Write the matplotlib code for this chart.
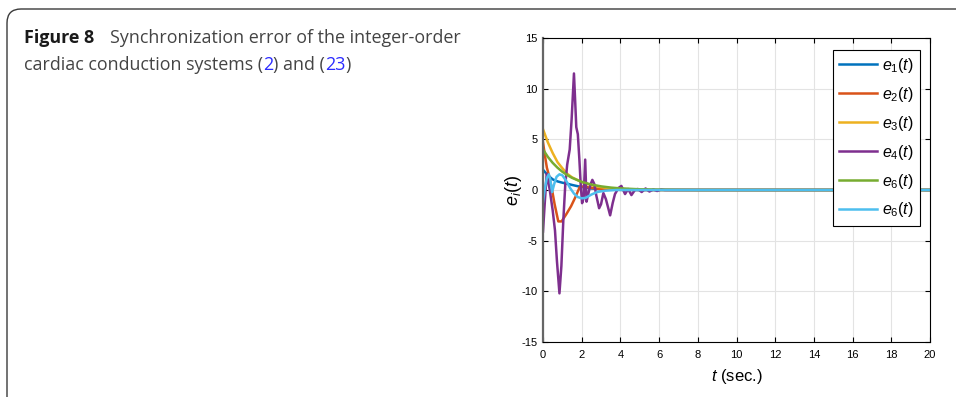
import numpy as np
import matplotlib.pyplot as plt
from matplotlib.patches import FancyBboxPatch
from matplotlib.transforms import IdentityTransform

plt.rcParams['font.family'] = ['Liberation Sans', 'DejaVu Sans']
plt.rcParams['mathtext.fontset'] = 'custom'
plt.rcParams['mathtext.rm'] = 'Liberation Sans'
plt.rcParams['mathtext.it'] = 'Liberation Sans:italic'
plt.rcParams['axes.unicode_minus'] = False

# Werte
t1 = [0, 0.25, 0.5, 0.75, 1.0, 1.25, 1.5, 1.9, 2.5, 3.0, 4.0, 5.0, 20]
e1 = [2.0, 1.45, 1.05, 0.85, 0.72, 0.62, 0.5, 0.33, 0.15, 0.07, 0.02, 0, 0]

t2 = [0, 0.1, 0.2, 0.3, 0.45, 0.6, 0.79, 0.96, 1.2, 1.45, 1.65, 1.9, 2.1, 2.5, 3.0, 4.0, 5.0, 20]
e2 = [4.7, 3.4, 2.2, 1.5, 0.2, -1.4, -3.1, -3.1, -2.4, -1.6, -0.8, 0.3, 0.35, 0.2, 0.1, 0.02, 0, 0]

t3 = [0, 0.25, 0.5, 0.75, 1.0, 1.25, 1.5, 2.0, 2.5, 3.0, 3.5, 4.0, 5.0, 6.0, 20]
e3 = [6.0, 4.7, 3.65, 2.75, 2.15, 1.6, 1.25, 0.78, 0.47, 0.28, 0.17, 0.1, 0.03, 0, 0]

t4 = [0, 0.1, 0.19, 0.35, 0.5, 0.62, 0.72, 0.85, 0.95, 1.05, 1.15, 1.25, 1.38, 1.48, 1.6,
      1.68, 1.72, 1.8, 1.88, 1.95, 2.02, 2.1, 2.18, 2.25, 2.35, 2.45, 2.55, 2.65, 2.75,
      2.9, 3.0, 3.12, 3.25, 3.47, 3.6, 3.72, 3.9, 4.05, 4.24, 4.4, 4.57, 4.75, 4.9,
      5.1, 5.3, 5.5, 5.7, 5.9, 6.1, 6.3, 20]
e4 = [-4.1, -1.0, 1.6, 0.0, -2.0, -4.0, -7.0, -10.2, -7.5, -3.0, 0.5, 2.5, 4.0, 7.0, 11.5,
      8.0, 6.2, 5.5, 3.0, 0.5, -1.3, -0.8, 3.0, -1.15, -0.3, 0.5, 1.0, 0.6, -0.5,
      -1.8, -1.4, -0.3, -0.9, -2.5, -1.3, -0.4, 0.2, 0.4, -0.4, 0.1, -0.5, 0.0, 0.1,
      -0.2, 0.15, -0.15, 0.05, -0.1, 0.05, 0, 0]

t5 = [0, 0.25, 0.5, 0.75, 1.0, 1.25, 1.5, 2.0, 2.5, 3.0, 3.5, 4.0, 5.0, 6.0, 7.0, 8.0, 20]
e5 = [4.0, 3.27, 2.68, 2.2, 1.8, 1.47, 1.2, 0.8, 0.54, 0.36, 0.24, 0.16, 0.07, 0.03, 0.01, 0, 0]

t6 = [0, 0.1, 0.2, 0.3, 0.38, 0.47, 0.58, 0.7, 0.85, 1.0, 1.2, 1.4, 1.6, 1.8, 2.0, 2.2,
      2.5, 2.8, 3.2, 3.8, 20]
e6 = [-1.2, 0.2, 1.2, 1.55, 1.0, -0.2, 0.6, 1.3, 1.55, 1.45, 0.9, 0.2, -0.35, -0.7, -0.82,
      -0.78, -0.45, -0.2, -0.07, 0, 0]

series = [(t1, e1, '#0072BD', r'$e_1(t)$'),
          (t2, e2, '#D95319', r'$e_2(t)$'),
          (t3, e3, '#EDB120', r'$e_3(t)$'),
          (t4, e4, '#7E2F8E', r'$e_4(t)$'),
          (t5, e5, '#77AC30', r'$e_6(t)$'),
          (t6, e6, '#4DBEEE', r'$e_6(t)$')]

W, H = 956, 397
fig = plt.figure(figsize=(W / 100, H / 100), dpi=100)

# Rahmen der Karte
card = FancyBboxPatch((7, -30), 1000, H - 9 + 30, boxstyle='round,pad=0,rounding_size=14',
                      transform=IdentityTransform(), facecolor='white', edgecolor='#3a3a3a',
                      lw=1.0, zorder=-10)
fig.add_artist(card)

# Titel, Stueck fuer Stueck
r = fig.canvas.get_renderer()


def put(parts, x, y, size):
    for s, bold, col in parts:
        txt = fig.text(x / W, y / H, s, fontsize=size, fontweight='bold' if bold else 'normal',
                       color=col, family='Open Sans', va='baseline', ha='left')
        x = txt.get_window_extent(r).x1


cap = 12.9
grey = '#444444'
put([('Figure 8', True, '#1a1a1a')], 24, H - 43, cap)
put([('Synchronization error of the integer-order', False, grey)], 110, H - 43, cap)
put([('cardiac conduction systems (', False, grey), ('2', False, '#2b2bff'),
     (') and (', False, grey), ('23', False, '#2b2bff'), (')', False, grey)],
    24, H - 70, cap)

ax = fig.add_axes([543 / W, 55 / H, 387 / W, 304 / H])
for t, e, c, lab in series:
    ax.plot(t, e, color=c, lw=1.8, label=lab)

ax.set_xlim(0, 20)
ax.set_ylim(-15, 15)
ax.set_xticks(np.arange(0, 21, 2))
ax.set_yticks(np.arange(-15, 16, 5))
ax.grid(True, color='#e3e3e3', lw=0.8)
ax.set_axisbelow(True)
ax.tick_params(direction='in', top=True, right=True, length=3.5, width=0.8, labelsize=8, pad=4)
ax.tick_params(axis='x', pad=6)
for s in ax.spines.values():
    s.set_linewidth(0.8)
    s.set_color('black')
ax.spines['left'].set_color('#666666')
ax.spines['left'].set_linewidth(1.6)

ax.set_xlabel(r'$t$ (sec.)', fontsize=12, labelpad=5)
ax.set_ylabel(r'$e_i(t)$', fontsize=13, labelpad=-2)

leg = ax.legend(loc='upper right', bbox_to_anchor=(0.975, 0.962), fontsize=11.5, frameon=True,
                fancybox=False, edgecolor='black', framealpha=1, handlelength=2.4,
                labelspacing=0.62, borderpad=0.4, handletextpad=0.3, borderaxespad=0)
leg.get_frame().set_linewidth(0.8)

fig.savefig('out.png', dpi=100)
